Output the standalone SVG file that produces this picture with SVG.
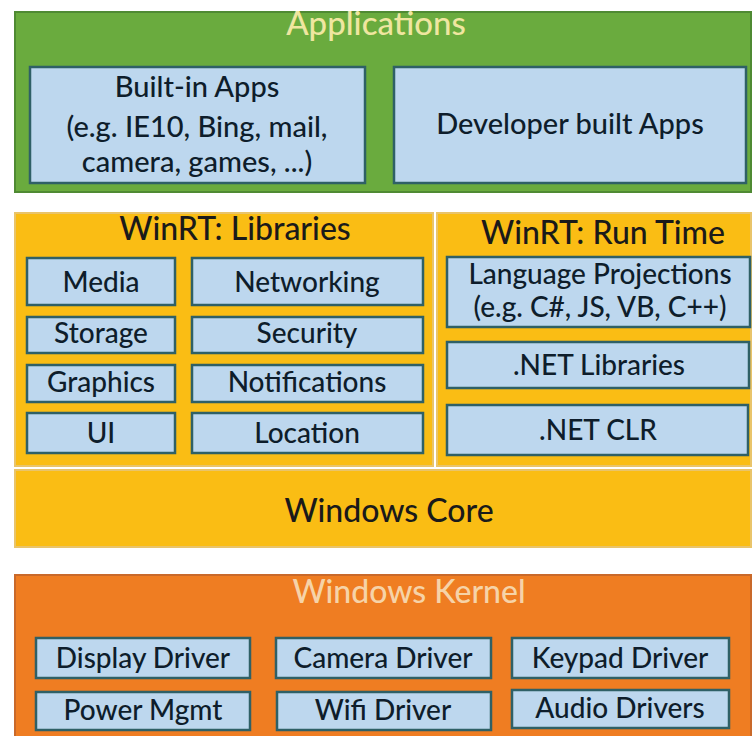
<svg xmlns="http://www.w3.org/2000/svg" width="752" height="736" viewBox="0 0 752 736">
<style>
.bg{fill:#ffffff}
.green{fill:#6aab3e;stroke:#4f8a33;stroke-width:2}
.yellow{fill:#fabd14;stroke:#e9c46a;stroke-width:2}
.orange{fill:#ef7d22;stroke:#c9692a;stroke-width:2}
.box{fill:#bdd7ee;stroke:#2f6066;stroke-width:2.5}
.lbl{font-family:Lato,"Open Sans",sans-serif;font-weight:500;font-size:28px;fill:#0e1d2b;text-anchor:middle}
.big{font-size:29px}
.ttl{font-family:Lato,"Open Sans",sans-serif;font-weight:500;font-size:32px;fill:#1a1a1a;text-anchor:middle}
.lt1{font-family:Lato,"Open Sans",sans-serif;font-weight:500;font-size:33px;fill:#efe6a0;text-anchor:middle}
.lt2{font-family:Lato,"Open Sans",sans-serif;font-weight:500;font-size:32px;fill:#f6d3a8;text-anchor:middle}
</style>
<rect class="bg" x="0" y="0" width="752" height="736"/>
<g id="applications">
<rect class="green" x="15" y="12" width="736" height="180"/>
<text class="lt1" x="376" y="35">Applications</text>
</g>
<g id="builtin-apps">
<rect class="box" x="30" y="67" width="335" height="116"/>
<text class="lbl big" x="197" y="97">Built-in Apps</text>
<text class="lbl big" x="197" y="137">(e.g. IE10, Bing, mail,</text>
<text class="lbl big" x="197" y="172">camera, games, ...)</text>
</g>
<g id="developer-apps">
<rect class="box" x="394" y="67" width="352" height="116"/>
<text class="lbl big" x="570" y="134">Developer built Apps</text>
</g>
<g id="winrt-libraries">
<rect class="yellow" x="15" y="213" width="418" height="253"/>
<text class="ttl" x="235" y="240">WinRT: Libraries</text>
</g>
<g id="media"><rect class="box" x="27" y="258" width="148" height="47"/><text class="lbl" x="101" y="292">Media</text></g>
<g id="networking"><rect class="box" x="192" y="258" width="231" height="47"/><text class="lbl" x="307" y="292">Networking</text></g>
<g id="storage"><rect class="box" x="27" y="317" width="148" height="36"/><text class="lbl" x="101" y="343">Storage</text></g>
<g id="security"><rect class="box" x="192" y="317" width="231" height="36"/><text class="lbl" x="307" y="343">Security</text></g>
<g id="graphics"><rect class="box" x="27" y="365" width="148" height="37"/><text class="lbl" x="101" y="392">Graphics</text></g>
<g id="notifications"><rect class="box" x="192" y="365" width="231" height="37"/><text class="lbl" x="307" y="392">Notifications</text></g>
<g id="ui"><rect class="box" x="27" y="413" width="148" height="40"/><text class="lbl" x="101" y="443">UI</text></g>
<g id="location"><rect class="box" x="192" y="413" width="231" height="40"/><text class="lbl" x="307" y="443">Location</text></g>
<g id="winrt-runtime">
<rect class="yellow" x="437" y="213" width="314" height="253"/>
<text class="ttl" x="603" y="244">WinRT: Run Time</text>
</g>
<g id="language-projections"><rect class="box" x="447" y="257" width="303" height="70"/><text class="lbl" x="600" y="284">Language Projections</text><text class="lbl" x="600" y="317">(e.g. C#, JS, VB, C++)</text></g>
<g id="net-libraries"><rect class="box" x="447" y="342" width="302" height="46"/><text class="lbl" x="599" y="375">.NET Libraries</text></g>
<g id="net-clr"><rect class="box" x="447" y="405" width="301" height="50"/><text class="lbl" x="598" y="440">.NET CLR</text></g>
<g id="windows-core">
<rect class="yellow" x="15" y="470" width="736" height="77"/>
<text class="ttl" x="389" y="522">Windows Core</text>
</g>
<g id="windows-kernel">
<rect class="orange" x="15" y="575" width="736" height="170"/>
<text class="lt2" x="409" y="603">Windows Kernel</text>
</g>
<g id="display-driver"><rect class="box" x="36" y="638" width="214" height="40"/><text class="lbl" x="143" y="668">Display Driver</text></g>
<g id="camera-driver"><rect class="box" x="276" y="638" width="215" height="40"/><text class="lbl" x="383" y="668">Camera Driver</text></g>
<g id="keypad-driver"><rect class="box" x="512" y="638" width="217" height="40"/><text class="lbl" x="620" y="668">Keypad Driver</text></g>
<g id="power-mgmt"><rect class="box" x="36" y="692" width="214" height="38"/><text class="lbl" x="143" y="720">Power Mgmt</text></g>
<g id="wifi-driver"><rect class="box" x="277" y="692" width="214" height="38"/><text class="lbl" x="383" y="720">Wifi Driver</text></g>
<g id="audio-drivers"><rect class="box" x="512" y="690" width="217" height="38"/><text class="lbl" x="620" y="718">Audio Drivers</text></g>
<g id="connectors"></g>
</svg>
